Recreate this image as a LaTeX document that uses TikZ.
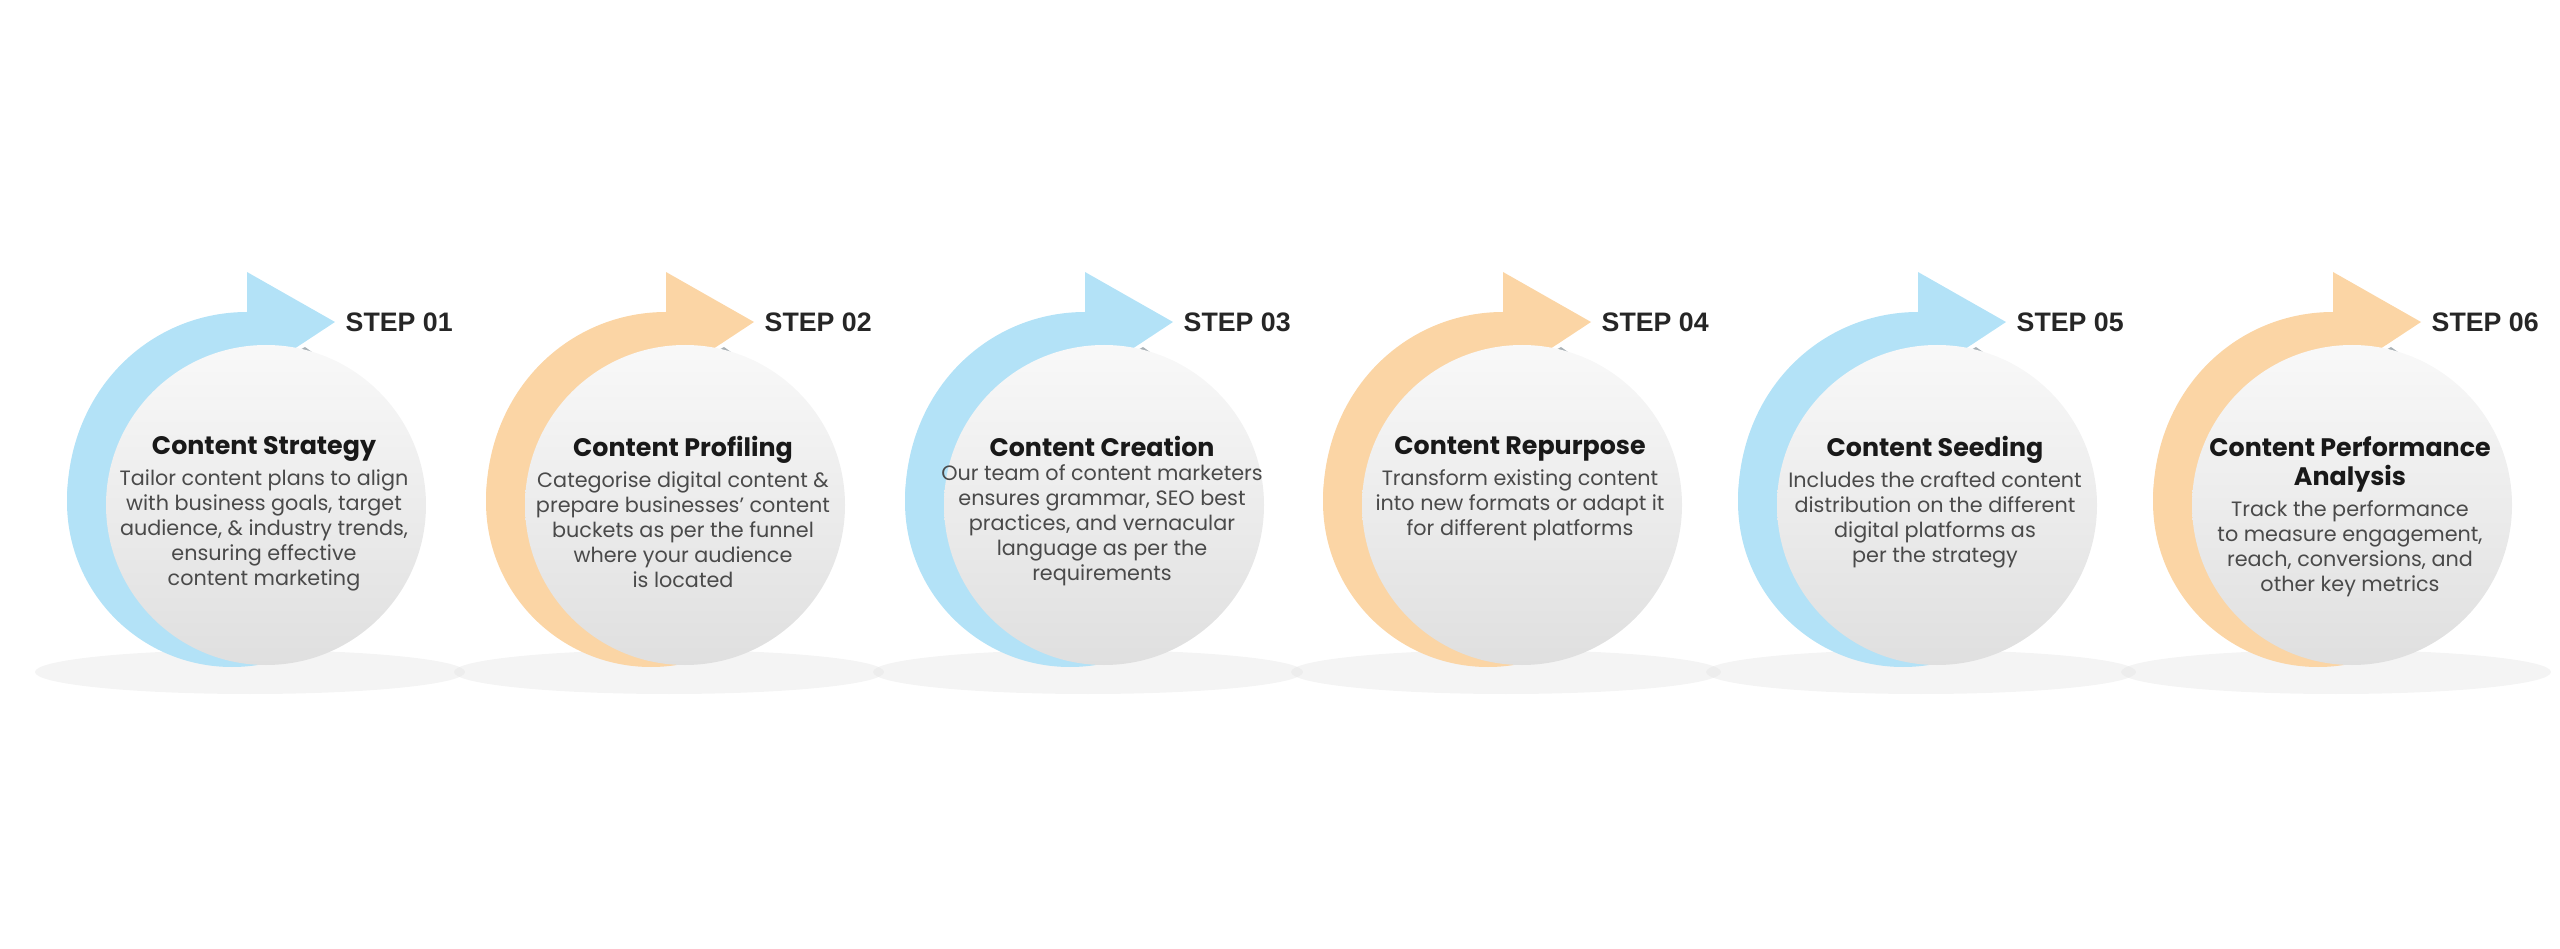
\documentclass[tikz,border=0pt]{standalone}
\usepackage{fontspec}
\setmainfont{Poppins}
\newfontfamily\stepfont{Liberation Sans}
\definecolor{cblue}{HTML}{B3E2F7}
\definecolor{corange}{HTML}{FBD5A5}
\definecolor{ctext}{HTML}{4A4A4A}
\begin{document}
\begin{tikzpicture}[x=0.01cm,y=-0.01cm,
  title/.style={font=\fontsize{7.2}{8.4}\selectfont\bfseries, text=black!90, align=center, anchor=north, inner sep=1pt},
  body/.style={font=\fontsize{5.9}{7.1}\selectfont, text=ctext, align=center, anchor=north, inner sep=1pt},
  steplabel/.style={font=\stepfont\bfseries\fontsize{7.6}{9}\selectfont, text=black!85, anchor=west, inner sep=0}]
\useasboundingbox (0,0) rectangle (2560,949);
\newcommand\unit[5]{%
 \begin{scope}[xshift=#1*0.01cm]
  \fill[gray!25,opacity=0.35] (250,672) ellipse (215 and 22);
  \fill[#2] (232,502) circle (165);
  \fill[#2] (67,502) .. controls (67,390) and (150,312) .. (247,312) -- (247,272) -- (335,322) -- (247,380) -- (247,502) -- cycle;
  \fill[black!80!cyan!40] (247,380) -- (305,347) -- (312,352) -- (247,390) -- cycle;
  \shade[top color=gray!5, bottom color=gray!25] (266,505) circle (160);
  \node[steplabel] (s#1) at (345,322) {STEP #3};
  \node[title] (t#1) at (264,432) {#4};
  \node[body] (b#1) at (t#1.south) {#5};
 \end{scope}}
\unit{0}{cblue}{01}{Content Strategy}{Tailor content plans to align\\with business goals, target\\audience, \& industry trends,\\ensuring effective\\content marketing}
\unit{419}{corange}{02}{Content Profiling}{Categorise digital content \&\\prepare businesses’ content\\buckets as per the funnel\\where your audience\\is located}
\unit{838}{cblue}{03}{Content Creation}{Our team of content marketers\\ensures grammar, SEO best\\practices, and vernacular\\language as per the\\requirements}
\unit{1256}{corange}{04}{Content Repurpose}{Transform existing content\\into new formats or adapt it\\for different platforms}
\unit{1671}{cblue}{05}{Content Seeding}{Includes the crafted content\\distribution on the different\\digital platforms as\\per the strategy}
\unit{2086}{corange}{06}{Content Performance\\Analysis}{Track the performance\\to measure engagement,\\reach, conversions, and\\other key metrics}
\end{tikzpicture}
\end{document}
